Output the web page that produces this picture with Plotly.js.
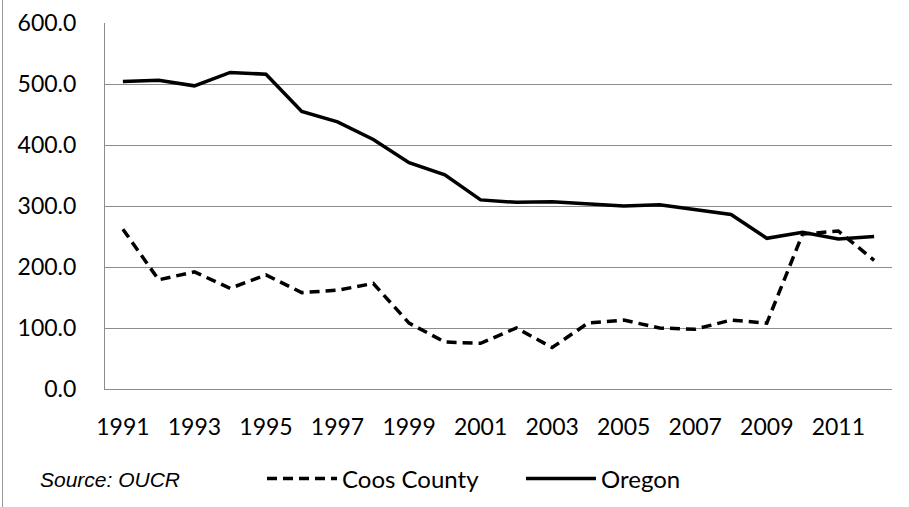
<!DOCTYPE html>
<html>
<head>
<meta charset="utf-8">
<script src="https://cdn.plot.ly/plotly-3.0.1.min.js"></script>
<style>
  html, body { margin: 0; padding: 0; background: #fff; }
  #wrap { position: relative; width: 909px; height: 507px; }
  #chart { width: 909px; height: 507px; }
  #edge { position: absolute; left: 2px; top: 0; width: 1px; height: 507px; background: #9a9a9a; }
</style>
</head>
<body>
<div id="wrap"><div id="chart"></div><div id="edge"></div></div>
<script>
const years = [1991,1992,1993,1994,1995,1996,1997,1998,1999,2000,2001,2002,2003,2004,2005,2006,2007,2008,2009,2010,2011,2012];
const coosCounty = [262,179,192,165,187,158,162,173,108,77,75,100,68,108,113,100,98,113,108,254,259,211];
const oregon = [504,506,497,519,516,455,438,409,371,351,310,306,307,304,300,302,294,286,247,257,246,250];
const xTickVals = [1991,1993,1995,1997,1999,2001,2003,2005,2007,2009,2011];
const yTickVals = [0,100,200,300,400,500,600];
const yTickText = yTickVals.map(v => v.toFixed(1));
const sourceNote = 'Source: OUCR';

const tickFont = { family: 'Lato, Carlito, Calibri, sans-serif', size: 23, color: '#000' };
const legendFont = { family: 'Lato, Carlito, Calibri, sans-serif', size: 24, color: '#000' };

const traces = [
  { x: years, y: coosCounty, name: 'Coos County', type: 'scatter', mode: 'lines',
    line: { color: '#000', width: 3.5, dash: '10px,6px' } },
  { x: years, y: oregon, name: 'Oregon', type: 'scatter', mode: 'lines',
    line: { color: '#000', width: 3.5 } }
];

const layout = {
  width: 909, height: 507,
  margin: { l: 105, r: 17, t: 23, b: 118, autoexpand: false },
  paper_bgcolor: '#fff', plot_bgcolor: '#fff',
  showlegend: true,
  legend: {
    orientation: 'h', xref: 'container', yref: 'container',
    x: 262 / 909, xanchor: 'left', y: (507 - 479) / 507, yanchor: 'middle',
    font: legendFont, itemwidth: 70, entrywidth: 174, traceorder: 'normal', bgcolor: 'rgba(0,0,0,0)'
  },
  xaxis: {
    type: 'linear', range: [1990.5, 2012.5], tickvals: xTickVals,
    ticktext: xTickVals.map(String), tickfont: tickFont,
    showgrid: false, zeroline: false, showline: true, linecolor: '#8c8c8c', linewidth: 1,
    ticks: '', ticklabelstandoff: 17, fixedrange: true
  },
  yaxis: {
    range: [0, 600], tickvals: yTickVals, ticktext: yTickText, tickfont: tickFont,
    showgrid: true, gridcolor: '#8c8c8c', gridwidth: 1,
    zeroline: false, showline: true, linecolor: '#8c8c8c', linewidth: 1,
    ticks: '', ticklabelstandoff: 23, fixedrange: true
  },
  annotations: [{
    text: sourceNote, xref: 'paper', yref: 'paper', x: -0.0845, y: -0.246,
    xanchor: 'left', yanchor: 'middle', showarrow: false,
    font: { family: 'Liberation Sans, Arial, sans-serif', size: 21, color: '#000', style: 'italic' }
  }]
};

Plotly.newPlot('chart', traces, layout, { staticPlot: true, displayModeBar: false });
</script>
</body>
</html>
